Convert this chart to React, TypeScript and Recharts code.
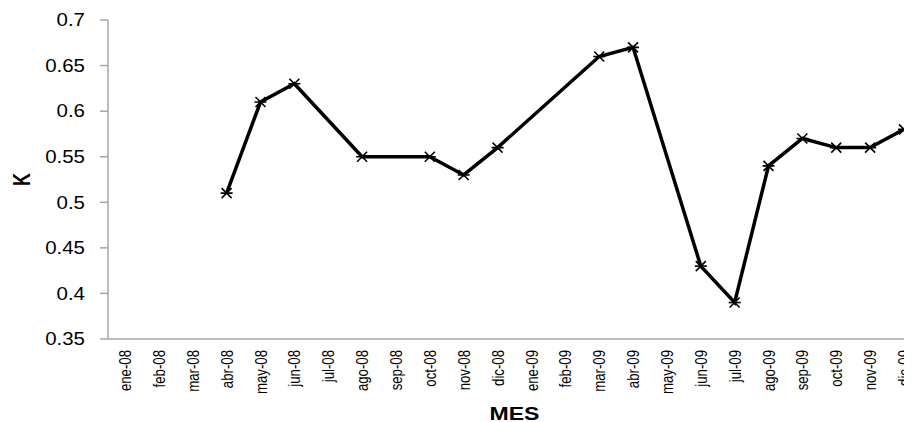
import React from "react";
import { LineChart, Line, XAxis, YAxis } from "recharts";

const months = [
  "ene-08", "feb-08", "mar-08", "abr-08", "may-08", "jun-08", "jul-08", "ago-08",
  "sep-08", "oct-08", "nov-08", "dic-08", "ene-09", "feb-09", "mar-09", "abr-09",
  "may-09", "jun-09", "jul-09", "ago-09", "sep-09", "oct-09", "nov-09", "dic-09",
];
const kValues: (number | null)[] = [
  null, null, null, 0.51, 0.61, 0.63, null, 0.55,
  null, 0.55, 0.53, 0.56, null, null, 0.66, 0.67,
  null, 0.43, 0.39, 0.54, 0.57, 0.56, 0.56, 0.58,
];
const yTicks = [0.35, 0.4, 0.45, 0.5, 0.55, 0.6, 0.65, 0.7];

const data = months.map((m, i) => ({ mes: m, k: kValues[i] }));

const FONT = "'Liberation Sans', Arial, sans-serif";

const YTick = (props: any) => {
  const { x, y, payload } = props;
  return (
    <g transform={`translate(${x},${y}) scale(1.17,1)`}>
      <text x={0} y={0} dy="0.36em" textAnchor="end" fontFamily={FONT} fontSize={17.5} fill="#000">
        {String(payload.value)}
      </text>
    </g>
  );
};

const XTick = (props: any) => {
  const { x, y, payload } = props;
  return (
    <g transform={`translate(${x},${y}) scale(1.28,1) rotate(-90)`}>
      <text x={0} y={0} dy="0.36em" textAnchor="end" fontFamily={FONT} fontSize={13.2} fill="#000">
        {payload.value}
      </text>
    </g>
  );
};

const StarDot = (props: any) => {
  const { cx, cy, value } = props;
  if (value === null || value === undefined || cx == null || cy == null) return <g />;
  const r = 5;
  return (
    <g stroke="#000" strokeWidth={1.6}>
      <line x1={cx - r} y1={cy - r} x2={cx + r} y2={cy + r} />
      <line x1={cx - r} y1={cy + r} x2={cx + r} y2={cy - r} />
      <line x1={cx - r - 1} y1={cy} x2={cx + r + 1} y2={cy} />
    </g>
  );
};

const XLabel = (props: any) => {
  const vb = props.viewBox || {};
  const cx = vb.x + vb.width / 2;
  const by = vb.y + vb.height - 2;
  return (
    <g transform={`translate(${cx},${by}) scale(1.28,1)`}>
      <text x={0} y={0} textAnchor="middle" fontFamily={FONT} fontWeight="bold" fontSize={18} fill="#000">
        MES
      </text>
    </g>
  );
};

const YLabel = (props: any) => {
  const vb = props.viewBox || {};
  const cy = vb.y + vb.height / 2;
  return (
    <g transform={`translate(14,${cy}) scale(1.3,1) rotate(-90)`}>
      <text x={0} y={0} dy="0.36em" textAnchor="middle" fontFamily={FONT} fontWeight="bold" fontSize={18} fill="#000">
        K
      </text>
    </g>
  );
};

export default function App() {
  return (
    <div style={{ width: 904, height: 414, overflow: "hidden" }}>
      <style>{"html,body{overflow:hidden;}"}</style>
      <LineChart
        width={913}
        height={414}
        data={data}
        margin={{ top: 12, right: 0, bottom: 0, left: 0 }}
      >
        <XAxis
          dataKey="mes"
          interval={0}
          height={83}
          padding={{ left: 17, right: 17 }}
          tickLine={false}
          tickSize={0}
          tickMargin={11}
          axisLine={{ stroke: "#a6a6a6", strokeWidth: 1.5 }}
          tick={<XTick />}
          label={<XLabel />}
        />
        <YAxis
          domain={[0.35, 0.7]}
          ticks={yTicks}
          width={100}
          tickSize={8}
          tickMargin={15}
          tickLine={{ stroke: "#a6a6a6", strokeWidth: 1.5 }}
          axisLine={{ stroke: "#a6a6a6", strokeWidth: 1.5 }}
          tick={<YTick />}
          label={<YLabel />}
          allowDataOverflow
        />
        <Line
          type="linear"
          dataKey="k"
          stroke="#000"
          strokeWidth={3.5}
          connectNulls
          dot={<StarDot />}
          activeDot={false}
          isAnimationActive={false}
        />
      </LineChart>
    </div>
  );
}
